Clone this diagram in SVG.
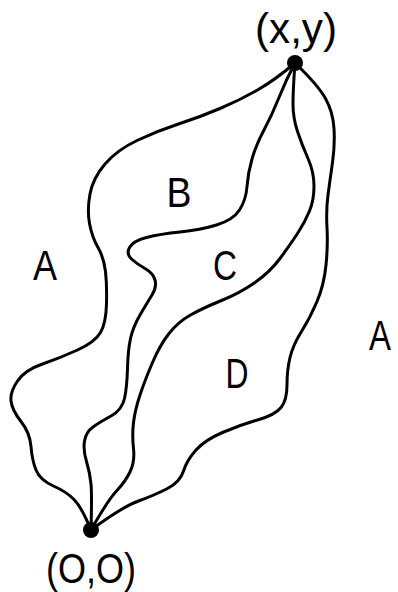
<svg xmlns="http://www.w3.org/2000/svg" width="398" height="592" viewBox="0 0 398 592">
<style>
.c{fill:none;stroke:#000;stroke-width:3;stroke-linecap:round;stroke-linejoin:round}
.t{font-family:"Liberation Sans",Arial,sans-serif;font-size:43px;fill:#000;text-anchor:middle}
.d{fill:#000}
</style>
<rect width="398" height="592" fill="#fff"/>
<g id="connectors">
<path class="c" d="M295,63 Q275,80 257.5,90 Q240,100 220,108.5 Q200,117 178.5,124 Q157,131 137,140.5 Q117,150 105,164 Q93,178 90,194 Q87,210 89.5,223.5 Q92,237 98,247.5 Q104,258 105.5,271.5 Q107,285 106.5,304 Q106,323 100.5,332.5 Q95,342 77.5,350 Q60,358 42.5,364 Q25,370 17.5,381 Q10,392 11,401 Q12,410 21,421.5 Q30,433 31,446.5 Q32,460 36,470 Q40,480 53.5,486 Q67,492 74.5,500 Q82,508 91,530"/>
<path class="c" d="M295,63 Q286,80 279,97.5 Q272,115 264,130 Q256,145 252,159 Q248,173 247,186.5 Q246,200 239.5,210 Q233,220 216.5,225 Q200,230 180,232 Q160,234 146.5,237.5 Q133,241 129.5,247.5 Q126,254 131.5,259 Q137,264 145,268.5 Q153,273 155,280 Q157,287 152,295 Q147,303 140,315 Q133,327 130.5,338.5 Q128,350 127.5,368.5 Q127,387 124.5,398.5 Q122,410 111,416 Q100,422 93,427 Q86,432 84.5,441 Q83,450 86.5,461.5 Q90,473 91,484 Q92,495 91,530"/>
<path class="c" d="M295,63 Q293,90 293,104 Q293,118 297.5,131.5 Q302,145 308,158.5 Q314,172 314,186 Q314,200 309.5,211 Q305,222 297.5,233.5 Q290,245 280,258.5 Q270,272 255,282.5 Q240,293 221.5,300.5 Q203,308 190.5,315 Q178,322 169,333.5 Q160,345 152.5,362.5 Q145,380 140,395 Q135,410 133.5,422.5 Q132,435 133.5,448.5 Q135,462 130,472 Q125,482 116.5,491 Q108,500 91,530"/>
<path class="c" d="M295,63 Q318,85 325.5,98.5 Q333,112 334,128.5 Q335,145 332.5,162.5 Q330,180 328,195 Q326,210 327,227.5 Q328,245 326,265 Q324,285 317,301.5 Q310,318 301.5,331.5 Q293,345 290,357.5 Q287,370 287,385 Q287,400 281,407.5 Q275,415 257.5,420 Q240,425 222.5,432.5 Q205,440 196,450 Q187,460 183.5,471 Q180,482 167.5,488.5 Q155,495 138.5,501 Q122,507 91,530"/>
</g>
<g id="node-xy">
<circle class="d" cx="295" cy="63" r="8"/>
<text class="t" x="296" y="43" font-size="40" textLength="82" lengthAdjust="spacingAndGlyphs">(x,y)</text>
</g>
<g id="node-00">
<circle class="d" cx="91" cy="530" r="8"/>
<text class="t" x="91" y="583" font-size="40" textLength="90" lengthAdjust="spacingAndGlyphs">(O,O)</text>
</g>
<g id="region-labels">
<text class="t" x="45" y="280" textLength="24" lengthAdjust="spacingAndGlyphs">A</text>
<text class="t" x="179" y="207" textLength="25" lengthAdjust="spacingAndGlyphs">B</text>
<text class="t" x="225" y="280" textLength="24" lengthAdjust="spacingAndGlyphs">C</text>
<text class="t" x="237" y="388" textLength="23" lengthAdjust="spacingAndGlyphs">D</text>
<text class="t" x="380" y="350" textLength="22" lengthAdjust="spacingAndGlyphs">A</text>
</g>
</svg>
